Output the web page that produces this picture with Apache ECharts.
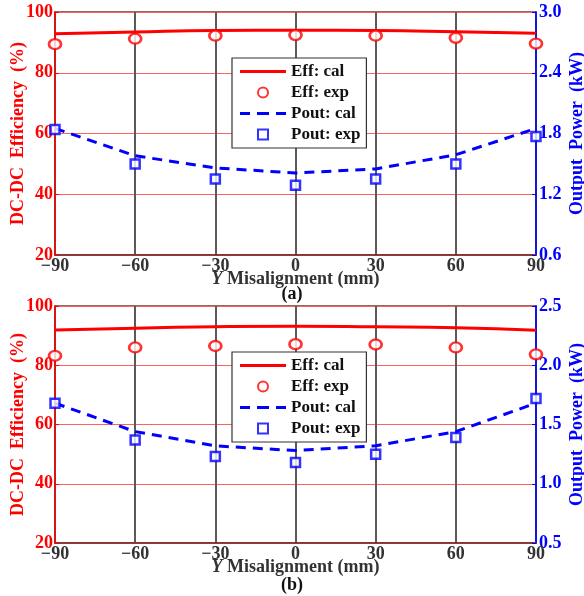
<!DOCTYPE html>
<html>
<head>
<meta charset="utf-8">
<script src="https://cdn.jsdelivr.net/npm/echarts@6/dist/echarts.min.js"></script>
<style>
  html, body { margin: 0; padding: 0; background: #fff; }
  #chart { width: 584px; height: 596px; }
</style>
</head>
<body>
<div id="chart"></div>
<script>
// misalignment positions (mm)
var misalign = [-90, -60, -30, 0, 30, 60, 90];

// (a)
var effCalA = [92.8, 93.4, 93.9, 94.0, 93.9, 93.5, 93.0];
var effExpA = [89.4, 91.2, 92.2, 92.4, 92.2, 91.5, 89.6];
var poutCalA = [1.85, 1.58, 1.46, 1.41, 1.45, 1.59, 1.85];
var poutExpA = [1.84, 1.50, 1.35, 1.29, 1.35, 1.50, 1.77];

// (b)
var effCalB = [91.9, 92.5, 93.0, 93.2, 93.0, 92.7, 91.8];
var effExpB = [83.2, 86.0, 86.5, 87.1, 87.0, 86.0, 83.7];
var poutCalB = [1.68, 1.44, 1.32, 1.28, 1.32, 1.44, 1.68];
var poutExpB = [1.68, 1.37, 1.23, 1.18, 1.25, 1.39, 1.72];

function pairs(ys) {
    return misalign.map(function (x, i) { return [x, ys[i]]; });
}

var font = 'Liberation Serif';
var RED = '#ff0000';
var BLUE = '#0000ff';
var FS = 18;

// legend icons: plain line, dashed line, small square
var solidIcon = 'path://M0,0H46V3H0Z';
var dashIcon = 'path://M0,0H10V3H0Z M17,0H29V3H17Z M36,0H46V3H36Z';
var squareIcon = 'path://M0,0H10V10H0Z';

var legendItems = [
    { name: 'Eff: cal', icon: solidIcon },
    { name: 'Eff: exp', icon: 'circle' },
    { name: 'Pout: cal', icon: dashIcon },
    { name: 'Pout: exp', icon: squareIcon }
];

function fmtX(v) {
    return v < 0 ? '\u2212' + Math.abs(v) : String(v);
}

function xAxisFor(idx) {
    return {
        type: 'value', gridIndex: idx, min: -90, max: 90, interval: 30,
        name: '{i|Y} Misalignment (mm)',
        nameLocation: 'middle', nameGap: 15, nameMoveOverlap: false,
        nameTextStyle: {
            fontFamily: font, fontWeight: 'bold', fontSize: FS, color: '#333',
            rich: { i: { fontFamily: font, fontWeight: 'bold', fontStyle: 'italic', fontSize: FS, color: '#333' } }
        },
        axisLine: { show: true, onZero: false, lineStyle: { color: '#7a2a2a', width: 1.5 } },
        axisTick: { show: false },
        axisLabel: { formatter: fmtX, fontFamily: font, fontWeight: 'bold', fontSize: FS, color: '#333', margin: 2 },
        splitLine: { show: true, lineStyle: { color: '#5a5a5a', width: 2 } }
    };
}

function leftAxis(idx) {
    return {
        type: 'value', gridIndex: idx, min: 20, max: 100, interval: 20,
        name: 'DC-DC  Efficiency  (%)',
        nameLocation: 'middle', nameGap: 28, nameRotate: 90, nameMoveOverlap: false,
        nameTextStyle: { fontFamily: font, fontWeight: 'bold', fontSize: FS, color: RED },
        axisLine: { show: true, onZero: false, lineStyle: { color: RED, width: 1.5 } },
        axisTick: { show: true, inside: true, length: 4, lineStyle: { color: RED } },
        axisLabel: { fontFamily: font, fontWeight: 'bold', fontSize: FS, color: RED, margin: 2 },
        splitLine: { show: true, lineStyle: { color: '#ff6060', width: 1 } }
    };
}

function rightAxis(idx, min, max, step, digits) {
    return {
        type: 'value', gridIndex: idx, position: 'right', min: min, max: max, interval: step,
        name: 'Output  Power  (kW)',
        nameLocation: 'middle', nameGap: 32, nameRotate: 90, nameMoveOverlap: false,
        nameTextStyle: { fontFamily: font, fontWeight: 'bold', fontSize: FS, color: BLUE },
        axisLine: { show: true, onZero: false, lineStyle: { color: BLUE, width: 1.5 } },
        axisTick: { show: true, inside: true, length: 4, lineStyle: { color: BLUE } },
        axisLabel: {
            fontFamily: font, fontWeight: 'bold', fontSize: FS, color: BLUE, margin: 3,
            formatter: function (v) { return v.toFixed(digits); }
        },
        splitLine: { show: false }
    };
}

function seriesFor(idx, effCal, effExp, poutCal, poutExp) {
    var xi = idx, yl = idx * 2, yr = idx * 2 + 1;
    return [
        { name: 'Eff: cal', type: 'line', xAxisIndex: xi, yAxisIndex: yl, data: pairs(effCal),
          smooth: true, symbol: 'none', lineStyle: { color: RED, width: 3 }, itemStyle: { color: RED }, z: 5 },
        { name: 'Eff: exp', type: 'scatter', xAxisIndex: xi, yAxisIndex: yl, data: pairs(effExp),
          symbol: 'circle', symbolSize: [12, 10],
          itemStyle: { color: '#fff', borderColor: RED, borderWidth: 2.5 }, z: 6 },
        { name: 'Pout: cal', type: 'line', xAxisIndex: xi, yAxisIndex: yr, data: pairs(poutCal),
          symbol: 'none', lineStyle: { color: BLUE, width: 3, type: [10, 7] }, itemStyle: { color: BLUE }, z: 5 },
        { name: 'Pout: exp', type: 'scatter', xAxisIndex: xi, yAxisIndex: yr, data: pairs(poutExp),
          symbol: 'rect', symbolSize: 9,
          itemStyle: { color: '#fff', borderColor: BLUE, borderWidth: 2.5 }, z: 6 }
    ];
}

function legendFor(top) {
    return {
        data: legendItems, orient: 'vertical', left: 232, top: top,
        itemWidth: 46, itemHeight: 10, itemGap: 4,
        padding: [5, 6, 5, 8],
        backgroundColor: '#fff', borderColor: '#333', borderWidth: 1.2,
        textStyle: { fontFamily: font, fontWeight: 'bold', fontSize: 17, color: '#111' },
        selectedMode: false
    };
}

var chart = echarts.init(document.getElementById('chart'));
chart.setOption({
    backgroundColor: '#fff',
    animation: false,
    grid: [
        { left: 55, right: 48, top: 12, height: 243, show: true, borderColor: '#6b3a3a', borderWidth: 1.5,
          containLabel: false, outerBoundsMode: 'none' },
        { left: 55, right: 48, top: 306, height: 237, show: true, borderColor: '#6b3a3a', borderWidth: 1.5,
          containLabel: false, outerBoundsMode: 'none' }
    ],
    title: [
        { text: '(a)', left: 'center', top: 285, padding: 0, textStyle: { fontFamily: font, fontWeight: 'bold', fontSize: FS, color: '#111' } },
        { text: '(b)', left: 'center', top: 576, padding: 0, textStyle: { fontFamily: font, fontWeight: 'bold', fontSize: FS, color: '#111' } }
    ],
    legend: [legendFor(58), legendFor(352)],
    xAxis: [xAxisFor(0), xAxisFor(1)],
    yAxis: [leftAxis(0), rightAxis(0, 0.6, 3.0, 0.6, 1), leftAxis(1), rightAxis(1, 0.5, 2.5, 0.5, 1)],
    series: seriesFor(0, effCalA, effExpA, poutCalA, poutExpA)
        .concat(seriesFor(1, effCalB, effExpB, poutCalB, poutExpB))
});
</script>
</body>
</html>
